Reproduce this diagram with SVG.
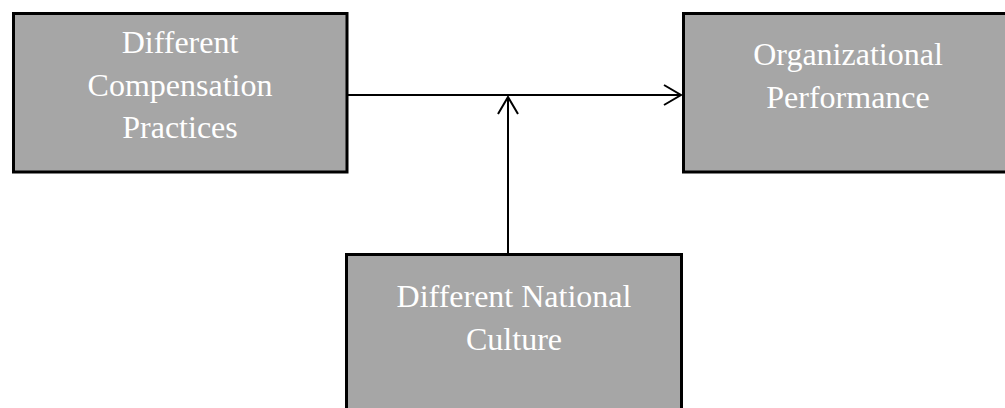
<svg xmlns="http://www.w3.org/2000/svg" width="1005" height="408" viewBox="0 0 1005 408">
<style>
.box{fill:#a6a6a6;stroke:#000;stroke-width:3}
.lbl{font-family:"Liberation Serif","Times New Roman",serif;font-size:32px;fill:#fff;text-anchor:middle}
.con{stroke:#000;stroke-width:2;fill:none}
</style>
<defs>
<marker id="arr" viewBox="0 0 20 24" refX="18" refY="12" markerWidth="20" markerHeight="24" markerUnits="userSpaceOnUse" orient="auto">
<path d="M1,2 L18,12 L1,22" fill="none" stroke="#000" stroke-width="2"/>
</marker>
</defs>
<rect width="1005" height="408" fill="#fff"/>
<g id="node-compensation">
<rect class="box" x="13.5" y="13.5" width="333.5" height="158.5"/>
<text class="lbl" x="180" y="53">Different</text>
<text class="lbl" x="180" y="96">Compensation</text>
<text class="lbl" x="180" y="138">Practices</text>
</g>
<g id="node-performance">
<rect class="box" x="683.5" y="13.5" width="330" height="158.5"/>
<text class="lbl" x="848" y="65">Organizational</text>
<text class="lbl" x="848" y="108">Performance</text>
</g>
<g id="node-culture">
<rect class="box" x="346.5" y="254.5" width="335" height="170"/>
<text class="lbl" x="514" y="307">Different National</text>
<text class="lbl" x="514" y="350">Culture</text>
</g>
<g id="connectors">
<line class="con" x1="348" y1="95" x2="681" y2="95" marker-end="url(#arr)"/>
<line class="con" x1="508" y1="253" x2="508" y2="97" marker-end="url(#arr)"/>
</g>
</svg>
